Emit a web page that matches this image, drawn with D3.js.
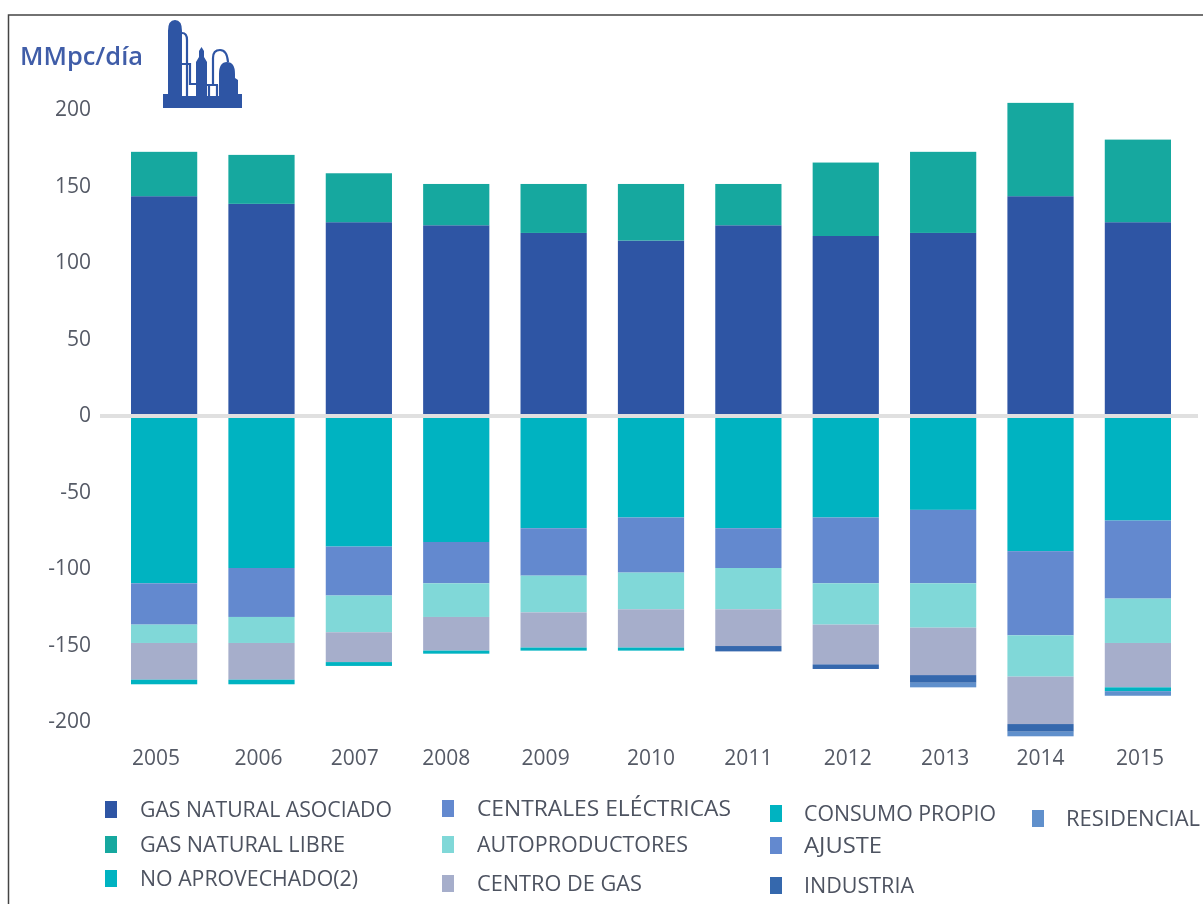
<!DOCTYPE html>
<html><head><meta charset="utf-8">
<script src="https://cdn.jsdelivr.net/npm/d3@7"></script>
<style>
html,body{margin:0;padding:0;background:#fff}
svg{display:block}
text{font-family:"Open Sans",Lato,sans-serif}
</style></head><body>
<svg id="c" width="1203" height="904"></svg>
<script>
const years=["2005","2006","2007","2008","2009","2010","2011","2012","2013","2014","2015"];
const yTicks=[200,150,100,50,0,-50,-100,-150,-200];
const gasAsociado=[143,138,126,124,119,114,124,117,119,143,126];
const gasLibre=[29,32,32,27,32,37,27,48,53,61,54];
const consumoPropio=[-110,-100,-86,-83,-74,-67,-74,-67,-62,-89,-69];
const centrales=[-27,-32,-32,-27,-31,-36,-26,-43,-48,-55,-51];
const autoproductores=[-12,-17,-24,-22,-24,-24,-27,-27,-29,-27,-29];
const centroGas=[-24,-24,-19.5,-22,-23,-25,-24,-26,-31,-31,-29];
const noAprovechado=[-3,-3,-2.5,-2,-2,-2,0,0,0,0,-2.5];
const industria=[0,0,0,0,0,0,-3.5,-3,-5,-5,0];
const residencial=[0,0,0,0,0,0,0,0,-3,-3,-3];
const ajuste=[0,0,0,0,0,0,0,0,0,0,0];
const seriesDefs=[
 ["GAS NATURAL ASOCIADO",gasAsociado,"#2e54a4"],
 ["GAS NATURAL LIBRE",gasLibre,"#17a89f"],
 ["CONSUMO PROPIO",consumoPropio,"#00b3c1"],
 ["CENTRALES ELÉCTRICAS",centrales,"#6389cf"],
 ["AUTOPRODUCTORES",autoproductores,"#80d8d8"],
 ["CENTRO DE GAS",centroGas,"#a6aecb"],
 ["NO APROVECHADO(2)",noAprovechado,"#00b3c1"],
 ["INDUSTRIA",industria,"#3668ad"],
 ["RESIDENCIAL",residencial,"#6090cc"],
 ["AJUSTE",ajuste,"#6389cf"]];
const legendItems=[
 ["GAS NATURAL ASOCIADO",105,809,140],["GAS NATURAL LIBRE",105,844,140],["NO APROVECHADO(2)",105,878,140],
 ["CENTRALES ELÉCTRICAS",442,808,477],["AUTOPRODUCTORES",442,844,477],["CENTRO DE GAS",442,883,477],
 ["CONSUMO PROPIO",770,813,804],["AJUSTE",770,845,804],["INDUSTRIA",770,885,804],
 ["RESIDENCIAL",1032,818,1066]];
const legendWidths={"GAS NATURAL ASOCIADO":252,"GAS NATURAL LIBRE":205,"NO APROVECHADO(2)":218,"CENTRALES ELÉCTRICAS":254,"AUTOPRODUCTORES":211,"CENTRO DE GAS":165,"CONSUMO PROPIO":192,"AJUSTE":78,"INDUSTRIA":110,"RESIDENCIAL":134};
const yearLabelNudge=[-8,-3,-4,-10,-8,0,0,2,2,0,2];

const svg=d3.select("#c");
const defs=svg.append("defs");
defs.append("filter").attr("id","soft").append("feGaussianBlur").attr("stdDeviation",0.55);
const root=svg.append("g").attr("filter","url(#soft)");
const color=new Map(seriesDefs.map(d=>[d[0],d[2]]));
const x=d3.scaleBand().domain(years).range([131,1171]).paddingInner(0.32);
const y=d3.scaleLinear().domain([-200,200]).range([721,109]);
const rows=years.map((yr,i)=>{const r={year:yr};seriesDefs.forEach(s=>r[s[0]]=s[1][i]);return r;});
const stack=d3.stack().keys(seriesDefs.map(s=>s[0])).offset(d3.stackOffsetDiverging)(rows);

root.append("g").selectAll("g").data(stack).join("g").attr("fill",d=>color.get(d.key))
 .selectAll("rect").data(d=>d.filter(p=>p[1]!==p[0])).join("rect")
 .attr("x",d=>x(d.data.year)).attr("width",x.bandwidth())
 .attr("y",d=>y(Math.max(d[0],d[1]))).attr("height",d=>Math.abs(y(d[0])-y(d[1])));

root.append("line").attr("x1",100).attr("x2",1198).attr("y1",y(0)+1).attr("y2",y(0)+1)
 .attr("stroke","#e0e0e0").attr("stroke-width",4);

const yAxis=root.append("g").attr("transform","translate(91,0)")
 .call(d3.axisLeft(y).tickValues(yTicks).tickSize(0).tickPadding(0).tickFormat(d=>String(d)));
yAxis.select(".domain").remove();
yAxis.selectAll("text").attr("fill","#555a66").style("font-size","21px").style("font-family",'"Open Sans",sans-serif').attr("dy","0.33em");

const xAxis=root.append("g").attr("transform","translate(0,758)")
 .call(d3.axisBottom(x).tickSize(0).tickPadding(0));
xAxis.select(".domain").remove();
xAxis.selectAll("text").attr("fill","#555a66").style("font-size","21px").style("font-family",'"Open Sans",sans-serif')
 .attr("dy","0.35em").attr("y",0).attr("dx",(d,i)=>yearLabelNudge[i]);

const lg=root.append("g").selectAll("g").data(legendItems).join("g");
lg.append("rect").attr("x",d=>d[1]).attr("y",d=>d[2]-8).attr("width",12).attr("height",17).attr("fill",d=>color.get(d[0]));
lg.append("text").attr("x",d=>d[3]).attr("y",d=>d[2]).attr("dy","0.35em").text(d=>d[0])
 .attr("fill","#4d5260").style("font-size","22px")
 .attr("textLength",d=>legendWidths[d[0]]).attr("lengthAdjust","spacingAndGlyphs");

root.append("text").attr("x",20).attr("y",56).attr("dy","0.35em").text("MMpc/día")
 .attr("fill","#3f5da8").style("font-size","25px").style("font-weight",600)
 .attr("textLength",123).attr("lengthAdjust","spacingAndGlyphs");

// refinery icon
const icon=root.append("g");
icon.append("path").attr("fill","#2e54a4").attr("d",
 "M163 94H168V31Q168 20 175 20Q182 20 182 31V96H196V62L199 57V51L201.5 47L204 51V57L207 62V96H219V74Q219 62 227 62Q235 62 235 74V78L238 80V94H242V108H163Z");
icon.append("path").attr("fill","none").attr("stroke","#2e54a4").attr("stroke-width",2.2).attr("d",
 "M182 33Q187 33 187 40V96M182 64H190V84H197M207 85H218M213 85V58Q213 50 220 50Q227 50 228 62M209 85V96M217 85V96");

// frame
svg.append("path").attr("fill","none").attr("stroke","#444").attr("stroke-width",1.5).attr("d","M8.5 904V15H1203");
</script>
</body></html>
